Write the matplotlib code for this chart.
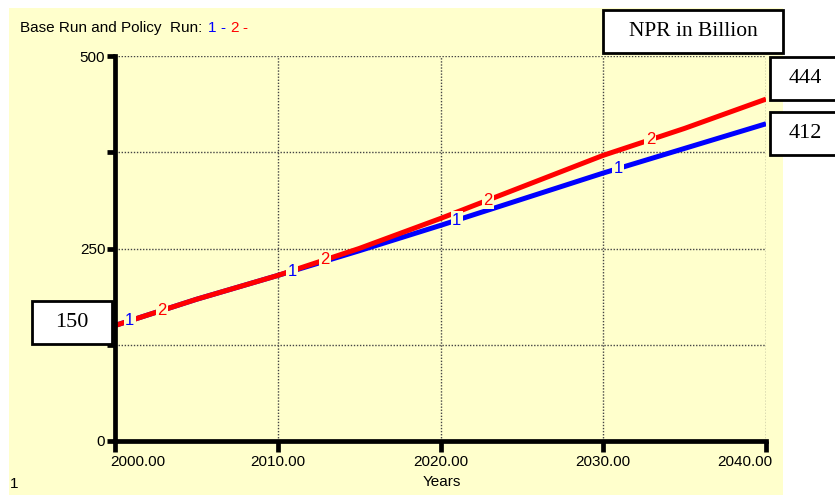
"""
Base run vs policy run: NPR in billion, 2000-2040.
"""

import matplotlib

matplotlib.use("Agg")
import matplotlib.pyplot as plt
import numpy as np
from matplotlib.patches import Rectangle
from matplotlib.transforms import ScaledTranslation

# data
years = [2000, 2005, 2010, 2015, 2020, 2025, 2030, 2035, 2040]
base_run = [150, 184, 215, 247, 280, 314, 348, 380, 412]
policy_run = [150, 184, 215, 250, 289, 330, 371, 406, 444]

y_ticks = [0, 125, 250, 375, 500]
y_labels = ["0", "", "250", "", "500"]
x_ticks = [2000, 2010, 2020, 2030, 2040]
x_labels = ["2000.00", "2010.00", "2020.00", "2030.00", "2040.00"]

label_years_1 = [2000.9, 2010.9, 2021.0, 2030.9]
label_years_2 = [2002.9, 2012.9, 2022.9, 2032.9]

W, H = 835, 495
BG = "#FFFFCC"
BLUE = "#0000FF"
RED = "#FF0000"
SERIF = "Liberation Serif"
FS = 11

plt.rcParams["font.family"] = ["Liberation Sans", "DejaVu Sans"]
plt.rcParams["font.size"] = FS


def fx(px):
    return px / W


def fy(py):
    return 1 - py / H


fig = plt.figure(figsize=(W / 100, H / 100), dpi=100, facecolor="white")
fig.patches.append(
    Rectangle((fx(9), 0), fx(783) - fx(9), fy(8), transform=fig.transFigure,
              facecolor=BG, edgecolor="none", zorder=-5)
)

ax = fig.add_axes([fx(115), fy(441), fx(766) - fx(115), fy(56) - fy(441)])
ax.set_zorder(1)
ax.set_facecolor(BG)
ax.set_xlim(2000, 2040)
ax.set_ylim(0, 500)

# dotted grid (also acts as top/right frame)
for v in [125, 250, 375, 500]:
    ax.axhline(v, color="#444444", linestyle=(0, (1, 1.2)), linewidth=1.0, zorder=1)
for v in [2010, 2020, 2030, 2040]:
    ax.axvline(v, color="#444444", linestyle=(0, (1, 1.2)), linewidth=1.0, zorder=1)

ax.plot(years, base_run, color=BLUE, linewidth=3.6, zorder=3, solid_capstyle="butt")
ax.plot(years, policy_run, color=RED, linewidth=3.6, zorder=4, solid_capstyle="butt")

for yr in label_years_1:
    ax.text(yr, np.interp(yr, years, base_run), "1", color=BLUE, fontsize=12,
            ha="center", va="center", zorder=5,
            bbox=dict(facecolor=BG, edgecolor="none", pad=1.0))
for yr in label_years_2:
    ax.text(yr, np.interp(yr, years, policy_run), "2", color=RED, fontsize=12,
            ha="center", va="center", zorder=5,
            bbox=dict(facecolor=BG, edgecolor="none", pad=1.0))

for side in ["top", "right"]:
    ax.spines[side].set_visible(False)
for side in ["left", "bottom"]:
    ax.spines[side].set_linewidth(3.4)
    ax.spines[side].set_zorder(6)

ax.set_yticks(y_ticks)
ax.set_yticklabels(y_labels, fontsize=FS)
ax.set_xticks(x_ticks)
ax.set_xticklabels(x_labels, fontsize=FS)
ax.tick_params(axis="y", length=6, width=3.4, pad=1)
ax.tick_params(axis="x", length=8, width=3.4, pad=2)

# end labels sit inside the axis span, as in the original
xt = ax.get_xticklabels()
xt[0].set_horizontalalignment("left")
xt[0].set_transform(xt[0].get_transform() + ScaledTranslation(-0.05, 0, fig.dpi_scale_trans))
xt[-1].set_horizontalalignment("right")
xt[-1].set_transform(xt[-1].get_transform() + ScaledTranslation(0.06, 0, fig.dpi_scale_trans))

# header text
fig.text(fx(20), fy(28), "Base Run and Policy  Run:", fontsize=FS, va="center", ha="left")
fig.text(fx(208), fy(28), "1", fontsize=FS, color=BLUE, va="center")
fig.text(fx(220), fy(28), "-", fontsize=FS, color=BLUE, va="center")
fig.text(fx(230), fy(28), "2", fontsize=FS, color=RED, va="center")
fig.text(fx(242), fy(28), "-", fontsize=FS, color=RED, va="center")

fig.text(fx(442), fy(482), "Years", fontsize=FS, ha="center", va="center")
fig.text(fx(14), fy(484), "1", fontsize=FS, ha="center", va="center")


def boxed(x0, y0, x1, y1, text, size):
    fig.patches.append(
        Rectangle((fx(x0), fy(y1)), fx(x1) - fx(x0), fy(y0) - fy(y1),
                  transform=fig.transFigure, facecolor="white",
                  edgecolor="black", linewidth=2.0, zorder=10)
    )
    fig.text(fx((x0 + x1) / 2), fy((y0 + y1) / 2), text, fontsize=size,
             family=SERIF, ha="center", va="center", zorder=11)


boxed(603, 10, 783, 53, "NPR in Billion", 15.5)
boxed(770, 57, 840, 100, f"{policy_run[-1]}", 16)
boxed(770, 112, 840, 155, f"{base_run[-1]}", 16)
boxed(32, 301, 112, 344, f"{policy_run[0]}", 16)

fig.savefig("out.png", dpi=100, facecolor=fig.get_facecolor())
